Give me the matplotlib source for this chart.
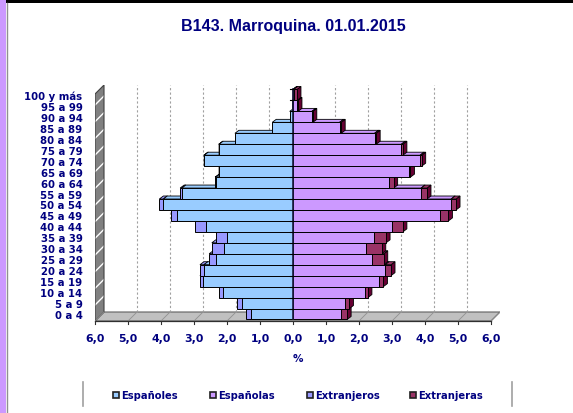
import matplotlib.pyplot as plt
from matplotlib.patches import Rectangle, Polygon

ages = ['0 a 4', '5 a 9', '10 a 14', '15 a 19', '20 a 24', '25 a 29', '30 a 34',
        '35 a 39', '40 a 44', '45 a 49', '50 a 54', '55 a 59', '60 a 64', '65 a 69',
        '70 a 74', '75 a 79', '80 a 84', '85 a 89', '90 a 94', '95 a 99', '100 y más']
espanoles = [1.27, 1.55, 2.12, 2.73, 2.70, 2.32, 2.08, 2.01, 2.64, 3.51, 3.93,
             3.37, 2.34, 2.24, 2.69, 2.24, 1.76, 0.63, 0.10, 0.03, 0.01]
extranjeros = [0.16, 0.15, 0.13, 0.09, 0.12, 0.22, 0.38, 0.33, 0.33, 0.20, 0.12,
               0.05, 0.02, 0.01, 0.01, 0.01, 0.0, 0.0, 0.0, 0.0, 0.0]
espanolas = [1.46, 1.59, 2.17, 2.62, 2.79, 2.39, 2.22, 2.45, 3.01, 4.44, 4.79,
             3.88, 2.92, 3.51, 3.85, 3.28, 2.47, 1.41, 0.57, 0.12, 0.02]
extranjeras = [0.18, 0.12, 0.10, 0.12, 0.18, 0.36, 0.47, 0.37, 0.32, 0.27, 0.15,
               0.18, 0.13, 0.05, 0.05, 0.05, 0.05, 0.05, 0.03, 0.03, 0.10]
xticks = [-6, -5, -4, -3, -2, -1, 0, 1, 2, 3, 4, 5, 6]

navy = '#000080'
c_esp_h, c_esp_m = '#99ccff', '#cc99ff'
c_ext_h, c_ext_m = '#9999ff', '#993366'

W, H = 573, 414
fig = plt.figure(figsize=(W / 100, H / 100), dpi=100)
fig.patch.set_facecolor('white')

# axes placed in pixels
ax_l, ax_r, ax_b, ax_t = 95, 500, 322, 86
ax = fig.add_axes([ax_l / W, 1 - ax_b / H, (ax_r - ax_l) / W, (ax_b - ax_t) / H])
xmax = 6 + 9 / 33
y0, y1 = -0.64, 20.91
ax.set_xlim(-6, xmax)
ax.set_ylim(y0, y1)
for s in ax.spines.values():
    s.set_visible(False)

# depth of walls / bars in data units
wdx, wdy = 9 / 33, 9 / 10.95
bdx, bdy = 4 / 33, 3 / 10.95

# floor and left wall
ax.add_patch(Polygon([(-6, y0), (6, y0), (6 + wdx, y0 + wdy), (-6 + wdx, y0 + wdy)],
                     fc='#c0c0c0', ec='#606060', lw=0.8, zorder=1))
ax.add_patch(Polygon([(-6, y0), (-6 + wdx, y0 + wdy), (-6 + wdx, y1), (-6, y1 - wdy)],
                     fc='#808080', ec='white', hatch='//', lw=0, zorder=1))
ax.add_patch(Polygon([(-6, y0), (-6 + wdx, y0 + wdy), (-6 + wdx, y1), (-6, y1 - wdy)],
                     fc='none', ec='#404040', lw=0.8, zorder=1))
for k in xticks:
    if k not in (-6, 0, 6):
        ax.plot([k + wdx, k + wdx], [y0 + wdy, y1], ls=(0, (2, 2)), color='#a0a0a0',
                lw=0.8, zorder=1)
for k in xticks:
    ax.plot([k, k + wdx], [y0, y0 + wdy], color='#909090', lw=0.6, zorder=1)
ax.plot([-6, 6], [y0, y0], color='#303030', lw=0.9, zorder=2, clip_on=False)
for k in xticks:
    ax.plot([k, k], [y0, y0 - 0.3], color='#303030', lw=0.8, zorder=2, clip_on=False)


def seg(xa, xb, i, fc, sidec, z):
    if xb - xa < 0.004:
        return
    ya, yb = i - 0.5, i + 0.5
    ax.add_patch(Polygon([(xb, ya), (xb + bdx, ya + bdy), (xb + bdx, yb + bdy), (xb, yb)],
                         fc=sidec, ec='black', lw=0.6, zorder=z))
    ax.add_patch(Polygon([(xa, yb), (xb, yb), (xb + bdx, yb + bdy), (xa + bdx, yb + bdy)],
                         fc=fc, ec='black', lw=0.6, zorder=z))
    ax.add_patch(Rectangle((xa, ya), xb - xa, 1, fc=fc, ec='black', lw=0.7, zorder=z))


z = 3
for i in range(len(ages)):
    a, b = espanoles[i], extranjeros[i]
    c, d = espanolas[i], extranjeras[i]
    seg(-a - b, -a, i, c_ext_h, '#6666cc', z)
    seg(-a, 0, i, c_esp_h, '#6699cc', z + 0.1)
    seg(0, c, i, c_esp_m, '#9966cc', z + 0.2)
    seg(c, c + d, i, c_ext_m, '#660033', z + 0.3)
    z += 1

ax.plot([0, 0], [-0.5, 20.5], color='#1a1a40', lw=1.2, zorder=z + 1)
for i in range(len(ages)):
    ax.plot([-0.1, 0], [i + 0.5, i + 0.5], color='black', lw=0.8, zorder=z + 1)

ax.set_xticks(xticks)
ax.set_xticklabels([f'{abs(k)},0' for k in xticks])
ax.set_yticks(range(len(ages)))
ax.set_yticklabels(ages)
ax.tick_params(axis='x', length=0, pad=9, labelsize=7.8, labelcolor=navy)
ax.tick_params(axis='y', length=0, pad=9, labelsize=7.3, labelcolor=navy)
for t in ax.get_xticklabels() + ax.get_yticklabels():
    t.set_fontweight('bold')
    t.set_fontfamily('DejaVu Sans')
ax.set_xlabel('%', fontsize=7.5, color=navy, fontweight='bold',
              fontfamily='DejaVu Sans', labelpad=7)

fig.text(293 / W, 1 - 27 / H, 'B143. Marroquina. 01.01.2015', ha='center', va='center',
         fontsize=11.5, fontweight='bold', color=navy, fontfamily='Liberation Sans')

# legend
names = ['Españoles', 'Españolas', 'Extranjeros', 'Extranjeras']
cols = [c_esp_h, c_esp_m, c_ext_h, c_ext_m]
xs = [116, 213, 310, 413]
for nm, cl, x in zip(names, cols, xs):
    fig.patches.append(Rectangle(((x - 3) / W, 1 - 399 / H), 6 / W, 6 / H, fc=cl,
                                 ec='#202020', lw=1.2, transform=fig.transFigure))
    fig.text((x + 5) / W, 1 - 396 / H, nm, ha='left', va='center', fontsize=7.2,
             fontweight='bold', color=navy, fontfamily='DejaVu Sans')
for x in (83, 512):
    fig.add_artist(plt.Line2D([x / W, x / W], [1 - 383 / H, 1 - 407 / H], color='#a0a0a0',
                              lw=1.2, transform=fig.transFigure))

# outer frame
fig.patches.append(Rectangle((0, 1 - 4 / H), 1, 4 / H, fc='black', ec='none',
                             transform=fig.transFigure))
fig.patches.append(Rectangle((0, 0), 6 / W, 1, fc='#cc99ff', ec='none',
                             transform=fig.transFigure))
fig.add_artist(plt.Line2D([6.5 / W, 6.5 / W], [0, 1 - 4 / H], color='#909090', lw=1,
                          transform=fig.transFigure))

fig.savefig('out.png', dpi=100)
